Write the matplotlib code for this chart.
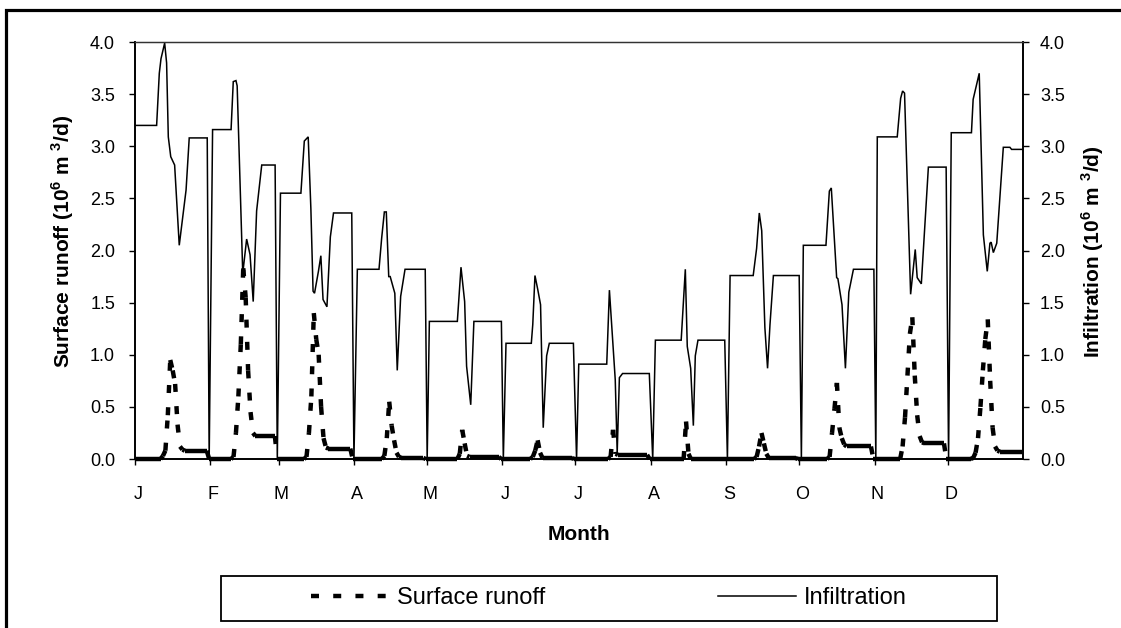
import numpy as np
import matplotlib
matplotlib.use("Agg")
import matplotlib.pyplot as plt
from matplotlib.collections import LineCollection
from matplotlib.lines import Line2D
from matplotlib.patches import Rectangle
from matplotlib.ticker import FormatStrFormatter

plt.rcParams['font.family'] = 'Liberation Sans'
plt.rcParams['mathtext.fontset'] = 'custom'
plt.rcParams['mathtext.rm'] = 'Liberation Sans'
plt.rcParams['mathtext.bf'] = 'Liberation Sans:bold'

# --- Data ---
months = ['J', 'F', 'M', 'A', 'M', 'J', 'J', 'A', 'S', 'O', 'N', 'D']
month_start = [0, 31, 59, 90, 120, 151, 181, 212, 243, 273, 304, 334]

# daily surface runoff (10^6 m3/d), one list per month
runoff_jan = [0, 0, 0, 0, 0, 0, 0, 0, 0, 0, 0, 0.03, 0.08, 0.42, 0.95, 0.85,
              0.72, 0.33, 0.12, 0.09, 0.08, 0.08, 0.08, 0.08, 0.08, 0.08, 0.08,
              0.08, 0.08, 0.08, 0]
runoff_feb = [0, 0, 0, 0, 0, 0, 0, 0, 0, 0.02, 0.25, 0.6, 1.1, 1.83, 1.55,
              0.85, 0.45, 0.25, 0.22, 0.22, 0.22, 0.22, 0.22, 0.22, 0.22, 0.22,
              0.22, 0]
runoff_mar = [0, 0, 0, 0, 0, 0, 0, 0, 0, 0, 0, 0.02, 0.25, 0.6, 1.40, 1.15,
              1.0, 0.5, 0.2, 0.11, 0.10, 0.10, 0.10, 0.10, 0.10, 0.10, 0.10,
              0.10, 0.10, 0.10, 0]
runoff_apr = [0, 0, 0, 0, 0, 0, 0, 0, 0, 0, 0, 0, 0.03, 0.2, 0.55, 0.32, 0.18,
              0.06, 0.02, 0.01, 0.01, 0.01, 0.01, 0.01, 0.01, 0.01, 0.01, 0.01,
              0.01, 0]
runoff_may = [0, 0, 0, 0, 0, 0, 0, 0, 0, 0, 0, 0, 0, 0.05, 0.28, 0.15, 0.03,
              0.02, 0.02, 0.02, 0.02, 0.02, 0.02, 0.02, 0.02, 0.02, 0.02, 0.02,
              0.02, 0.02, 0]
runoff_jun = [0, 0, 0, 0, 0, 0, 0, 0, 0, 0, 0, 0, 0.02, 0.08, 0.18, 0.06, 0.01,
              0.01, 0.01, 0.01, 0.01, 0.01, 0.01, 0.01, 0.01, 0.01, 0.01, 0.01,
              0.01, 0]
runoff_jul = [0, 0, 0, 0, 0, 0, 0, 0, 0, 0, 0, 0, 0, 0, 0.02, 0.28, 0.05, 0.04,
              0.04, 0.04, 0.04, 0.04, 0.04, 0.04, 0.04, 0.04, 0.04, 0.04, 0.04,
              0.04, 0]
runoff_aug = [0, 0, 0, 0, 0, 0, 0, 0, 0, 0, 0, 0, 0, 0, 0.36, 0.05, 0, 0, 0, 0,
              0, 0, 0, 0, 0, 0, 0, 0, 0, 0, 0]
runoff_sep = [0, 0, 0, 0, 0, 0, 0, 0, 0, 0, 0, 0, 0.02, 0.12, 0.25, 0.15, 0.05,
              0.01, 0.01, 0.01, 0.01, 0.01, 0.01, 0.01, 0.01, 0.01, 0.01, 0.01,
              0.01, 0]
runoff_oct = [0, 0, 0, 0, 0, 0, 0, 0, 0, 0, 0, 0, 0.02, 0.25, 0.48, 0.73, 0.3,
              0.2, 0.14, 0.12, 0.12, 0.12, 0.12, 0.12, 0.12, 0.12, 0.12, 0.12,
              0.12, 0.12, 0]
runoff_nov = [0, 0, 0, 0, 0, 0, 0, 0, 0, 0, 0, 0.12, 0.4, 0.8, 1.2, 1.36, 0.8,
              0.42, 0.22, 0.16, 0.15, 0.15, 0.15, 0.15, 0.15, 0.15, 0.15, 0.15,
              0.15, 0]
runoff_dec = [0, 0, 0, 0, 0, 0, 0, 0, 0, 0, 0.01, 0.06, 0.2, 0.5, 0.85, 1.15,
              1.34, 0.75, 0.3, 0.12, 0.08, 0.07, 0.07, 0.07, 0.07, 0.07, 0.07,
              0.07, 0.07, 0.07, 0.07]

# infiltration (10^6 m3/d) as (day, value) breakpoints of the polyline
infil_day = [0.5, 8.9, 10.0, 10.7, 12.2, 13.0, 13.7, 14.7, 16.3, 18.2, 21.0, 22.3, 29.7, 30.5,
             31.9, 39.5, 40.4, 41.5, 42.0, 44.3, 45.9, 47.3, 48.6, 50.0, 52.1, 57.6, 58.5,
             59.8, 68.2, 69.6, 71.2, 72.3, 73.2, 73.8, 75.4, 76.4, 77.3, 78.9, 80.3, 81.6, 89.1, 90.0,
             91.4, 100.3, 101.4, 102.5, 103.3, 104.3, 104.9, 106.8, 107.8, 109.2, 111.0, 119.3, 120.1,
             121.0, 132.5, 134.0, 135.5, 136.3, 138.0, 139.3, 150.6, 151.4,
             152.5, 162.9, 163.5, 164.4, 165.6, 166.7, 167.8, 169.2, 170.3, 180.2, 181.5,
             182.4, 193.9, 195.0, 197.4, 198.2, 199.1, 200.4, 211.4, 212.8,
             213.9, 224.5, 226.2, 227.0, 228.4, 229.5, 230.3, 231.4, 242.4, 243.5,
             244.6, 254.1, 255.5, 256.6, 257.6, 258.9, 260.0, 261.0, 262.4, 273.0, 273.9,
             274.7, 284.0, 285.4, 286.2, 288.4, 288.9, 290.6, 292.0, 293.4, 295.3, 303.7, 304.5,
             305.1, 313.3, 314.7, 315.5, 316.3, 318.8, 320.7, 321.5, 323.2, 326.1, 333.4, 334.4,
             335.5, 343.8, 344.5, 347.0, 348.7, 350.3, 351.4, 351.9, 352.8, 354.2, 356.9, 359.6, 360.3, 365.0]
infil_value = [3.20, 3.20, 3.70, 3.84, 3.99, 3.80, 3.09, 2.90, 2.82, 2.05, 2.58, 3.08, 3.08, 0.0,
               3.16, 3.16, 3.62, 3.63, 3.58, 1.78, 2.11, 1.96, 1.51, 2.38, 2.82, 2.82, 0.0,
               2.55, 2.55, 3.05, 3.09, 2.40, 1.61, 1.59, 1.80, 1.95, 1.53, 1.46, 2.13, 2.36, 2.36, 0.0,
               1.82, 1.82, 2.12, 2.37, 2.37, 1.75, 1.75, 1.59, 0.85, 1.56, 1.82, 1.82, 0.0,
               1.32, 1.32, 1.84, 1.51, 0.89, 0.52, 1.32, 1.32, 0.0,
               1.11, 1.11, 1.29, 1.76, 1.62, 1.48, 0.30, 0.99, 1.11, 1.11, 0.0,
               0.91, 0.91, 1.62, 0.76, 0.06, 0.78, 0.82, 0.82, 0.0,
               1.14, 1.14, 1.82, 1.08, 0.87, 0.32, 0.99, 1.14, 1.14, 0.0,
               1.76, 1.76, 2.02, 2.36, 2.19, 1.26, 0.87, 1.29, 1.76, 1.76, 0.0,
               2.05, 2.05, 2.57, 2.60, 1.74, 1.73, 1.48, 0.87, 1.60, 1.82, 1.82, 0.0,
               3.09, 3.09, 3.46, 3.53, 3.51, 1.58, 2.01, 1.74, 1.68, 2.80, 2.80, 0.0,
               3.13, 3.13, 3.45, 3.70, 2.15, 1.80, 2.07, 2.08, 1.98, 2.07, 2.99, 2.99, 2.97, 2.97]

runoff = (runoff_jan + runoff_feb + runoff_mar + runoff_apr + runoff_may + runoff_jun +
          runoff_jul + runoff_aug + runoff_sep + runoff_oct + runoff_nov + runoff_dec)
runoff_day = np.arange(1, len(runoff) + 1) - 0.5

# --- Figure ---
fig = plt.figure(figsize=(11.21, 6.28), dpi=100)
ax = fig.add_axes([0.1204, 0.2691, 0.7922, 0.664])

# runoff drawn day by day so the dash pattern restarts on every segment
runoff_dash = (0, (1.8, 3.2))
pts = np.column_stack([runoff_day, runoff])
segs = np.stack([pts[:-1], pts[1:]], axis=1)
lc = LineCollection(segs, colors='black', linewidths=3.2, linestyles=[runoff_dash],
                    capstyle='butt', clip_on=False, zorder=3)
ax.add_collection(lc)

ax.set_xlim(0, 365)
ax.set_ylim(0, 4)
ax.set_yticks(np.arange(0, 4.01, 0.5))
ax.yaxis.set_major_formatter(FormatStrFormatter('%.1f'))
ax.set_xticks(month_start)
ax.set_xticklabels([])
ax.set_xticks([m + 1.2 for m in month_start], minor=True)
ax.set_xticklabels(months, minor=True)
ax.tick_params(axis='x', which='major', direction='out', length=4.3, width=1.0)
ax.tick_params(axis='x', which='minor', length=0, labelsize=13, pad=19.5)
ax.tick_params(axis='y', direction='out', length=4.3, width=1.0, labelsize=13, pad=10)

ax2 = ax.twinx()
ax2.plot(infil_day, infil_value, color='black', lw=1.1, solid_joinstyle='miter')
ax2.set_ylim(0, 4)
ax2.set_yticks(np.arange(0, 4.01, 0.5))
ax2.yaxis.set_major_formatter(FormatStrFormatter('%.1f'))
ax2.tick_params(axis='y', direction='out', length=4.3, width=1.0, labelsize=13, pad=8)

for a in (ax, ax2):
    a.spines['top'].set_linewidth(0.9)
    a.spines['top'].set_color('#333333')
    a.spines['bottom'].set_linewidth(1.2)
    a.spines['left'].set_linewidth(1.2)
    a.spines['right'].set_linewidth(1.2)

ax.set_xlabel('Month', fontsize=15, fontweight='bold', va='center')
ax.xaxis.set_label_coords(0.5, -0.182)
ax.set_ylabel(r'Surface runoff (10$^{\mathbf{6}}$ m $^{\mathbf{3}}$/d)', fontsize=15,
              fontweight='bold', va='center', ha='center')
ax.yaxis.set_label_coords(-0.081, 0.523)
ax2.set_ylabel(r'Infiltration (10$^{\mathbf{6}}$ m $^{\mathbf{3}}$/d)', fontsize=15,
               fontweight='bold', rotation=90, va='center', ha='center')
ax2.yaxis.set_label_coords(1.0788, 0.496)

# legend below the chart, boxed
handles = [Line2D([], [], color='black', lw=3.2, linestyle=runoff_dash, dash_capstyle='butt'),
           Line2D([], [], color='black', lw=1.1)]
fig.legend(handles, ['Surface runoff', 'Infiltration'], loc='center',
           bbox_to_anchor=(609 / 1121, 1 - 598.5 / 628), ncol=2, frameon=False,
           fontsize=17, handlelength=3.3, handletextpad=0.35, columnspacing=7.3)
fig.add_artist(Rectangle((221 / 1121, 1 - 621 / 628), 776 / 1121, 45 / 628,
                         transform=fig.transFigure, fill=False, lw=1.3, ec='black'))

# outer border
fig.add_artist(Rectangle((5.5 / 1121, -0.1), 1.2, 1 - 10 / 628 + 0.1,
                         transform=fig.transFigure, fill=False, lw=2.3, ec='black',
                         clip_on=False))

fig.savefig('out.png', dpi=100)
